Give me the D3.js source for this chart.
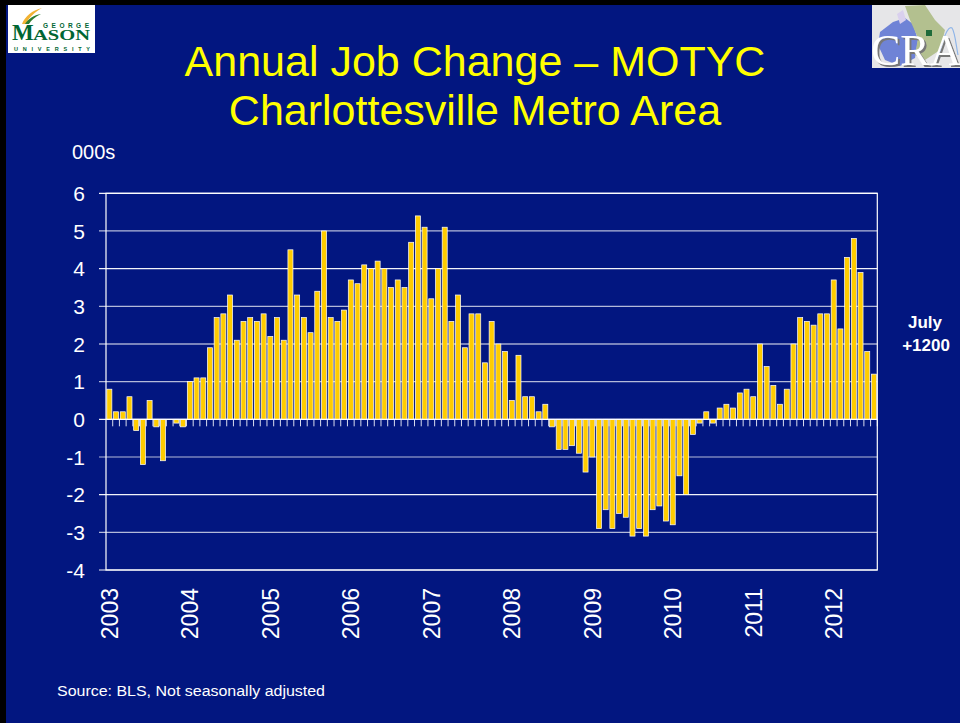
<!DOCTYPE html>
<html>
<head>
<meta charset="utf-8">
<script src="https://cdn.jsdelivr.net/npm/d3@7"></script>
<style>
  body { margin: 0; background: #000; }
  svg { display: block; }
  text { font-family: "Liberation Sans", Arial, sans-serif; }
</style>
</head>
<body>
<div id="chart"></div>
<script>
// annual job change, thousands, monthly Jan 2003 - Jul 2012
var years = [2003, 2004, 2005, 2006, 2007, 2008, 2009, 2010, 2011, 2012];
var monthsInLastYear = 7;
var jobChange = [
  0.8, 0.2, 0.2, 0.6, -0.3, -1.2, 0.5, -0.2, -1.1, 0, -0.1, -0.2,      // 2003
  1.0, 1.1, 1.1, 1.9, 2.7, 2.8, 3.3, 2.1, 2.6, 2.7, 2.6, 2.8,          // 2004
  2.2, 2.7, 2.1, 4.5, 3.3, 2.7, 2.3, 3.4, 5.0, 2.7, 2.6, 2.9,          // 2005
  3.7, 3.6, 4.1, 4.0, 4.2, 4.0, 3.5, 3.7, 3.5, 4.7, 5.4, 5.1,          // 2006
  3.2, 4.0, 5.1, 2.6, 3.3, 1.9, 2.8, 2.8, 1.5, 2.6, 2.0, 1.8,          // 2007
  0.5, 1.7, 0.6, 0.6, 0.2, 0.4, -0.2, -0.8, -0.8, -0.7, -0.9, -1.4,    // 2008
  -1.0, -2.9, -2.4, -2.9, -2.5, -2.6, -3.1, -2.9, -3.1, -2.4, -2.3, -2.7, // 2009
  -2.8, -1.5, -2.0, -0.4, -0.1, 0.2, -0.1, 0.3, 0.4, 0.3, 0.7, 0.8,    // 2010
  0.6, 2.0, 1.4, 0.9, 0.4, 0.8, 2.0, 2.7, 2.6, 2.5, 2.8, 2.8,          // 2011
  3.7, 2.4, 4.3, 4.8, 3.9, 1.8, 1.2                                     // 2012
];
var yTicks = [-4, -3, -2, -1, 0, 1, 2, 3, 4, 5, 6];

// month keys, e.g. "2003-1"
var months = [];
years.forEach(function(y, i) {
  var n = (i == years.length - 1) ? monthsInLastYear : 12;
  for (var m = 1; m <= n; m++) months.push(y + "-" + m);
});

var width = 960, height = 723;
var navy = "#021680";
var plotLeft = 106, plotRight = 877.3, plotTop = 193.3, plotBottom = 570;

var svg = d3.select("#chart").append("svg")
  .attr("width", width)
  .attr("height", height);

// shadow for the CRA lettering
var shadow = svg.append("defs").append("filter").attr("id", "crashadow")
  .attr("x", "-10%").attr("y", "-10%").attr("width", "130%").attr("height", "130%");
shadow.append("feDropShadow").attr("dx", 2).attr("dy", 2).attr("stdDeviation", 0.6)
  .attr("flood-color", "#777").attr("flood-opacity", 1);

// slide background with black frame top/left
svg.append("rect").attr("width", width).attr("height", height).attr("fill", "#000");
svg.append("rect").attr("x", 6).attr("y", 5).attr("width", width - 6).attr("height", height - 5).attr("fill", navy);

var x = d3.scaleBand()
  .domain(months)
  .range([plotLeft, plotRight])
  .paddingInner(0.25)
  .paddingOuter(0.125);

var y = d3.scaleLinear()
  .domain([-4, 6])
  .range([plotBottom, plotTop]);

// gridlines
svg.append("g")
  .selectAll("line")
  .data(yTicks)
  .join("line")
  .attr("x1", plotLeft - 7)
  .attr("x2", plotRight)
  .attr("y1", function(d) { return y(d); })
  .attr("y2", function(d) { return y(d); })
  .attr("stroke", "#fff")
  .attr("stroke-width", 1.2)
  .attr("stroke-opacity", function(d) { return d % 2 == 0 ? 0.95 : 0.7; });

// plot frame
svg.append("rect")
  .attr("x", plotLeft)
  .attr("y", plotTop)
  .attr("width", plotRight - plotLeft)
  .attr("height", plotBottom - plotTop)
  .attr("fill", "none")
  .attr("stroke", "#fff")
  .attr("stroke-width", 1.2);

// y tick labels
svg.append("g")
  .selectAll("text")
  .data(yTicks)
  .join("text")
  .attr("x", 85)
  .attr("y", function(d) { return y(d); })
  .attr("dy", "0.36em")
  .attr("text-anchor", "end")
  .attr("fill", "#fff")
  .style("font-size", "21px")
  .text(function(d) { return d; });

svg.append("text")
  .attr("x", 72)
  .attr("y", 159)
  .attr("fill", "#fff")
  .style("font-size", "20px")
  .text("000s");

// category tick marks hanging from the zero line
var step = x.step();
svg.append("g")
  .selectAll("line")
  .data(months)
  .join("line")
  .attr("x1", function(d) { return x(d) + x.bandwidth() + step * 0.125; })
  .attr("x2", function(d) { return x(d) + x.bandwidth() + step * 0.125; })
  .attr("y1", y(0))
  .attr("y2", y(0) + 7)
  .attr("stroke", "#fff")
  .attr("stroke-width", 1)
  .attr("stroke-opacity", 0.85);

// bars
svg.append("g")
  .selectAll("rect")
  .data(jobChange)
  .join("rect")
  .attr("x", function(d, i) { return x(months[i]); })
  .attr("width", x.bandwidth())
  .attr("y", function(d) { return y(Math.max(0, d)); })
  .attr("height", function(d) { return Math.abs(y(d) - y(0)); })
  .attr("fill", "#FFCC00")
  .attr("stroke", "#fff")
  .attr("stroke-width", 0.7);

// zero line on top
svg.append("line")
  .attr("x1", plotLeft)
  .attr("x2", plotRight)
  .attr("y1", y(0))
  .attr("y2", y(0))
  .attr("stroke", "#fff")
  .attr("stroke-width", 1.2);

// year labels (rotated)
svg.append("g")
  .selectAll("text")
  .data(years)
  .join("text")
  .attr("transform", function(d) {
    return "translate(" + (x(d + "-1") + x.bandwidth() / 2) + ",588) rotate(-90)";
  })
  .attr("dy", "0.36em")
  .attr("text-anchor", "end")
  .attr("fill", "#fff")
  .style("font-size", "23px")
  .text(function(d) { return d; });

// title
var title = svg.append("g").style("font-size", "43px");
title.append("text").attr("x", 475).attr("y", 76).attr("text-anchor", "middle").attr("fill", "#FFFF00").text("Annual Job Change \u2013 MOTYC");
title.append("text").attr("x", 475).attr("y", 125).attr("text-anchor", "middle").attr("fill", "#FFFF00").text("Charlottesville Metro Area");

// latest value note
svg.append("text").attr("x", 925).attr("y", 328).attr("text-anchor", "middle")
  .attr("fill", "#fff").style("font-size", "17px").style("font-weight", "bold").text("July");
svg.append("text").attr("x", 926).attr("y", 351).attr("text-anchor", "middle")
  .attr("fill", "#fff").style("font-size", "17px").style("font-weight", "bold").text("+1200");

// source
svg.append("text").attr("x", 57).attr("y", 696)
  .attr("fill", "#fff").style("font-size", "15.5px")
  .attr("textLength", 268).attr("lengthAdjust", "spacingAndGlyphs")
  .text("Source: BLS, Not seasonally adjusted");

// George Mason logo
var gmu = svg.append("g");
gmu.append("rect").attr("x", 8).attr("y", 5).attr("width", 87).attr("height", 48).attr("fill", "#fff");
gmu.append("path").attr("d", "M22,24 C25,16 33,10 42,8 C35,12 29,17 26,24 Z").attr("fill", "#F2B233");
gmu.append("path").attr("d", "M25,24 C28,19 34,15 41,14 C35,17 31,20 29,24 Z").attr("fill", "#2E7D32");
gmu.append("text").attr("x", 43).attr("y", 28).attr("fill", "#006633")
  .style("font-size", "6.5px").style("font-weight", "bold")
  .attr("textLength", 46).attr("lengthAdjust", "spacing").text("GEORGE");
gmu.append("text").attr("x", 12).attr("y", 40).attr("fill", "#006633")
  .style("font-family", "'Liberation Serif', serif").style("font-size", "23px").style("font-weight", "bold")
  .text("M");
gmu.append("text").attr("x", 33).attr("y", 40).attr("fill", "#006633")
  .style("font-family", "'Liberation Serif', serif").style("font-size", "14px").style("font-weight", "bold")
  .attr("textLength", 57).attr("lengthAdjust", "spacingAndGlyphs").text("ASON");
gmu.append("text").attr("x", 14).attr("y", 51).attr("fill", "#006633")
  .style("font-size", "5.5px").style("font-weight", "bold")
  .attr("textLength", 76).attr("lengthAdjust", "spacing").text("UNIVERSITY");

// CRA logo (lettering runs off the right edge, as on the slide)
var cra = svg.append("g");
cra.append("rect").attr("x", 872).attr("y", 5).attr("width", 88).attr("height", 63).attr("fill", "#E6E6E8");
cra.append("path").attr("d", "M880,32 L893,22 L905,18 L913,24 L918,40 L915,58 L900,66 L885,60 L878,45 Z").attr("fill", "#6F83D6");
cra.append("path").attr("d", "M897,14 L903,10 L906,20 L900,24 Z").attr("fill", "#D9D0EE");
cra.append("path").attr("d", "M905,6 L925,5 L935,20 L945,30 L940,50 L925,60 L915,55 L918,38 L910,20 Z").attr("fill", "#B3C08F");
cra.append("rect").attr("x", 926).attr("y", 30).attr("width", 6).attr("height", 6).attr("fill", "#1F6B3A");
cra.append("path").attr("d", "M938,60 C942,40 948,25 952,28 C955,32 956,45 958,55").attr("fill", "none").attr("stroke", "#8FB5E8").attr("stroke-width", 1.2);
cra.append("text").attr("x", 871).attr("y", 65).attr("fill", "#fff")
  .attr("filter", "url(#crashadow)")
  .style("font-family", "'Liberation Serif', serif").style("font-size", "44px").text("CRA");
</script>
</body>
</html>
